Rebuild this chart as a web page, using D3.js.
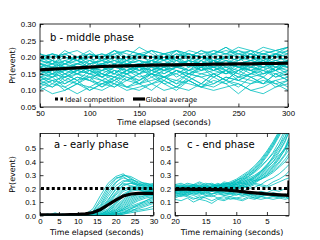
<!DOCTYPE html>
<html>
<head>
<meta charset="utf-8">
<script src="https://cdn.jsdelivr.net/npm/d3@7"></script>
<style>
  body { margin: 0; background: #fff; }
  svg { display: block; font-family: "DejaVu Sans", sans-serif; }
  .tick text { font-size: 7.8px; fill: #000; }
  .tick line { stroke: #000; stroke-width: 0.8; }
</style>
</head>
<body>
<div id="chart"></div>
<script>
// ---- data ----
const IDEAL = 0.2;

// b - middle phase (time elapsed, seconds)
const midTimes = [50, 62.5, 75, 87.5, 100, 112.5, 125, 137.5, 150, 162.5, 175, 187.5, 200, 212.5, 225, 237.5, 250, 262.5, 275, 287.5, 300];
const midAverage = [.162, .164, .166, .168, .170, .172, .173, .174, .175, .176, .177, .177, .178, .178, .179, .179, .180, .180, .181, .181, .182];
const midRuns = [
  [.20,.21,.20,.19,.21,.20,.21,.22,.21,.20,.21,.22,.21,.20,.21,.22,.21,.22,.21,.22,.23],
  [.19,.18,.20,.19,.18,.19,.20,.19,.21,.20,.19,.20,.21,.20,.19,.20,.21,.20,.21,.20,.21],
  [.18,.17,.18,.19,.17,.18,.19,.18,.17,.19,.18,.19,.18,.20,.19,.18,.19,.20,.19,.18,.19],
  [.16,.17,.16,.18,.17,.16,.17,.18,.17,.16,.18,.17,.18,.17,.19,.18,.17,.18,.17,.19,.18],
  [.15,.16,.17,.15,.16,.17,.16,.15,.17,.16,.17,.18,.16,.17,.16,.18,.17,.16,.17,.18,.17],
  [.14,.15,.14,.16,.15,.14,.16,.15,.16,.15,.17,.16,.15,.16,.17,.15,.16,.17,.16,.15,.16],
  [.12,.11,.13,.12,.10,.12,.13,.11,.12,.14,.12,.13,.12,.11,.13,.12,.14,.13,.12,.13,.14],
  [.11,.09,.10,.12,.11,.13,.12,.10,.11,.12,.13,.11,.10,.12,.11,.13,.12,.10,.09,.11,.12],
  [.21,.20,.21,.22,.20,.21,.20,.22,.21,.22,.21,.20,.22,.21,.22,.21,.22,.21,.23,.22,.21],
  [.17,.18,.17,.16,.18,.19,.17,.18,.19,.18,.17,.18,.19,.18,.17,.19,.18,.19,.20,.18,.19],
  [.13,.14,.15,.13,.14,.15,.14,.16,.14,.15,.14,.16,.15,.14,.15,.16,.14,.15,.16,.14,.15],
  [.17,.15,.16,.17,.16,.15,.17,.16,.18,.17,.16,.17,.16,.18,.17,.16,.18,.17,.16,.18,.17],
  [.20,.19,.18,.20,.19,.20,.18,.19,.20,.19,.21,.19,.20,.19,.21,.20,.19,.21,.20,.19,.20],
  [.13,.15,.12,.14,.13,.11,.14,.13,.15,.12,.14,.13,.15,.14,.12,.14,.13,.15,.14,.12,.13],
  [.18,.19,.17,.18,.19,.18,.17,.19,.18,.19,.20,.18,.19,.18,.20,.19,.18,.19,.18,.20,.19],
  [.16,.15,.17,.16,.15,.16,.18,.16,.17,.18,.16,.17,.18,.16,.17,.18,.17,.16,.18,.17,.16],
  [.10,.12,.11,.09,.11,.10,.12,.11,.10,.12,.10,.11,.13,.11,.10,.11,.12,.10,.11,.13,.11],
  [.19,.20,.21,.19,.20,.21,.19,.20,.21,.20,.19,.21,.20,.22,.20,.21,.20,.19,.21,.20,.22],
  [.15,.14,.16,.15,.17,.15,.14,.16,.15,.16,.15,.17,.16,.15,.16,.15,.17,.16,.15,.16,.17],
  [.17,.16,.18,.17,.16,.18,.17,.16,.17,.18,.19,.17,.18,.17,.18,.19,.17,.18,.19,.17,.18],
  [.12,.13,.12,.14,.13,.12,.11,.13,.12,.13,.14,.12,.13,.11,.12,.14,.13,.12,.13,.12,.10],
  [.19,.18,.19,.20,.18,.19,.18,.20,.19,.18,.20,.19,.21,.20,.19,.20,.19,.21,.20,.21,.20],
  [.16,.17,.15,.16,.17,.16,.15,.17,.16,.17,.16,.15,.17,.18,.16,.17,.16,.18,.17,.16,.18],
  [.14,.13,.14,.15,.14,.13,.15,.14,.13,.15,.14,.15,.13,.15,.14,.16,.15,.14,.15,.16,.14],
  [.18,.17,.19,.18,.17,.18,.19,.17,.18,.19,.18,.17,.19,.18,.19,.17,.18,.19,.18,.19,.18],
  [.20,.21,.20,.19,.21,.20,.22,.21,.20,.22,.21,.22,.21,.20,.22,.21,.23,.22,.21,.22,.23],
  [.17,.19,.16,.18,.20,.17,.15,.18,.19,.16,.18,.20,.17,.19,.16,.18,.20,.17,.19,.21,.18],
  [.14,.12,.15,.13,.16,.14,.12,.15,.13,.16,.14,.12,.15,.17,.14,.16,.13,.15,.17,.14,.16],
  [.19,.21,.18,.20,.22,.19,.21,.18,.20,.22,.19,.21,.20,.18,.21,.23,.20,.22,.19,.21,.22],
  [.16,.14,.17,.15,.13,.16,.18,.15,.17,.14,.16,.18,.15,.17,.19,.16,.14,.17,.19,.16,.18],
  [.11,.13,.10,.12,.14,.11,.13,.15,.12,.10,.13,.11,.14,.12,.15,.13,.11,.14,.12,.15,.13],
  [.18,.16,.19,.17,.15,.18,.20,.17,.15,.18,.16,.19,.17,.20,.18,.16,.19,.21,.18,.16,.19],
  [.15,.17,.14,.16,.18,.15,.13,.16,.18,.15,.17,.14,.16,.19,.17,.15,.18,.16,.14,.17,.19],
  [.20,.18,.21,.19,.17,.20,.22,.19,.21,.18,.20,.22,.19,.21,.18,.20,.22,.20,.18,.21,.20],
  [.13,.11,.14,.12,.15,.13,.11,.14,.12,.15,.13,.16,.14,.12,.15,.13,.16,.14,.12,.15,.13],
  [.17,.15,.18,.16,.19,.17,.15,.18,.16,.19,.17,.20,.18,.16,.19,.17,.15,.18,.20,.17,.19],
  [.12,.14,.11,.13,.10,.12,.14,.11,.13,.15,.12,.10,.13,.11,.14,.12,.09,.12,.14,.11,.13],
  [.21,.19,.22,.20,.21,.19,.22,.20,.23,.21,.19,.22,.20,.22,.21,.23,.21,.20,.22,.21,.23],
  [.16,.18,.15,.17,.16,.14,.17,.19,.16,.18,.15,.17,.19,.16,.18,.20,.17,.15,.18,.16,.19],
  [.14,.16,.13,.15,.17,.14,.16,.13,.15,.17,.14,.16,.14,.17,.15,.13,.16,.18,.15,.17,.15]
];

// a - early phase (time elapsed, seconds)
const earlyTimes = [0, 2, 4, 6, 8, 10, 12, 14, 16, 18, 20, 22, 24, 26, 28, 30];
const earlyAverage = [.005, .005, .005, .005, .006, .008, .012, .022, .045, .08, .115, .145, .16, .165, .165, .165];
const earlyRuns = [
  [0,0,.01,0,0,0,.01,.05,.15,.24,.29,.31,.27,.25,.24,.22],
  [0,.01,0,0,.01,0,0,.03,.10,.20,.27,.30,.28,.24,.22,.21],
  [0,0,0,.01,0,0,.01,.02,.06,.14,.22,.26,.25,.23,.21,.20],
  [0,0,0,0,0,.01,0,.01,.04,.10,.17,.23,.24,.22,.20,.19],
  [.01,0,0,0,0,0,0,.01,.03,.08,.15,.20,.21,.20,.19,.20],
  [0,0,.02,0,0,0,0,.01,.02,.05,.12,.18,.20,.19,.18,.19],
  [0,0,0,0,0,0,.01,0,.01,.04,.09,.15,.18,.19,.18,.17],
  [0,0,0,0,.01,0,0,0,.01,.03,.07,.12,.16,.17,.18,.17],
  [0,.01,0,0,0,0,0,0,.01,.02,.05,.10,.14,.16,.17,.16],
  [0,0,0,0,0,0,0,0,0,.02,.04,.08,.12,.15,.16,.16],
  [0,0,0,.01,0,0,0,0,0,.01,.03,.06,.10,.13,.15,.16],
  [0,0,0,0,0,0,0,0,0,.01,.02,.05,.08,.11,.13,.14],
  [0,0,0,0,0,0,0,0,0,0,.02,.04,.07,.09,.11,.13],
  [0,0,0,0,0,0,0,0,0,0,.01,.03,.05,.07,.09,.11],
  [0,0,0,0,0,0,0,0,0,0,.01,.02,.04,.05,.07,.09],
  [0,0,0,0,0,0,0,0,0,0,0,.01,.03,.04,.05,.07],
  [0,0,0,0,0,0,0,0,0,0,0,.01,.02,.03,.04,.05],
  [0,0,.01,0,0,0,0,.02,.08,.18,.25,.28,.26,.23,.21,.22],
  [0,0,0,0,0,0,0,.01,.05,.12,.19,.25,.27,.24,.23,.22],
  [0,0,0,0,0,0,0,0,.02,.07,.13,.19,.22,.21,.20,.21],
  [0,0,0,0,0,0,0,0,.01,.04,.10,.16,.19,.20,.21,.20],
  [0,0,0,0,0,0,0,0,0,.02,.06,.11,.15,.17,.18,.18],
  [0,0,0,0,0,0,0,0,0,.01,.03,.07,.11,.14,.15,.15],
  [0,0,0,0,0,0,0,0,0,0,.01,.02,.03,.06,.08,.10],
  [0,0,0,0,0,0,0,.01,.04,.11,.20,.24,.22,.21,.20,.23],
  [0,0,0,0,0,0,.01,.03,.12,.22,.28,.29,.25,.22,.24,.23],
  [0,0,0,0,0,0,0,.01,.03,.09,.16,.22,.24,.23,.22,.24],
  [0,0,0,0,0,0,0,0,.01,.03,.08,.14,.19,.21,.19,.18],
  [0,0,0,0,0,0,0,0,0,.01,.04,.09,.13,.16,.17,.19],
  [0,0,0,0,0,0,0,0,0,0,.02,.05,.09,.12,.14,.15],
  [0,0,0,0,0,0,0,0,0,.01,.02,.04,.06,.08,.10,.12],
  [0,0,0,0,0,0,0,0,0,0,0,.02,.05,.08,.11,.14],
  [0,0,0,0,0,0,0,.02,.07,.16,.24,.30,.29,.26,.23,.21]
];

// c - end phase (time remaining, seconds)
const endTimes = [20, 19, 18, 17, 16, 15, 14, 13, 12, 11, 10, 9, 8, 7, 6, 5, 4, 3, 2, 1.4];
const endAvgTimes = [20, 19, 18, 17, 16, 15, 14, 13, 12, 11, 10, 9, 8, 7, 6, 5, 4, 3, 2, 1.45, 1.4];
const endAverage = [.195, .196, .196, .195, .195, .194, .193, .192, .190, .187, .182, .177, .172, .168, .164, .160, .157, .154, .152, .15, .26];
const endRuns = [
  [.22,.23,.21,.22,.24,.22,.23,.22,.24,.23,.25,.27,.29,.32,.36,.41,.47,.55,.64,.72],
  [.20,.21,.22,.20,.21,.23,.21,.22,.23,.24,.26,.28,.31,.34,.39,.45,.52,.60,.70,.78],
  [.19,.20,.19,.21,.20,.19,.21,.20,.22,.21,.23,.24,.26,.29,.33,.38,.43,.50,.58,.66],
  [.21,.19,.20,.22,.21,.20,.22,.21,.20,.22,.24,.26,.28,.30,.33,.37,.42,.48,.56,.62],
  [.18,.19,.20,.18,.19,.21,.20,.19,.21,.22,.21,.23,.25,.27,.30,.34,.38,.44,.51,.58],
  [.17,.18,.19,.17,.18,.19,.18,.20,.19,.21,.22,.21,.23,.25,.28,.31,.35,.40,.46,.53],
  [.20,.22,.20,.21,.19,.20,.21,.22,.20,.21,.23,.22,.24,.26,.27,.30,.34,.39,.45,.49],
  [.19,.18,.20,.19,.21,.20,.19,.20,.21,.20,.22,.24,.23,.25,.27,.29,.32,.36,.40,.44],
  [.22,.21,.23,.22,.20,.22,.21,.23,.22,.24,.23,.25,.27,.26,.29,.32,.36,.42,.50,.57],
  [.18,.17,.18,.19,.17,.18,.19,.18,.19,.20,.19,.21,.22,.24,.23,.26,.28,.31,.35,.38],
  [.16,.17,.16,.18,.17,.16,.18,.17,.18,.17,.19,.18,.20,.21,.23,.22,.25,.27,.30,.33],
  [.21,.20,.22,.21,.23,.21,.22,.24,.22,.23,.25,.24,.26,.28,.31,.35,.40,.47,.55,.63],
  [.15,.14,.16,.15,.13,.15,.14,.16,.15,.14,.16,.15,.17,.16,.18,.17,.19,.18,.20,.22],
  [.17,.16,.15,.17,.16,.18,.16,.17,.15,.16,.17,.16,.15,.17,.16,.15,.17,.16,.15,.17],
  [.13,.15,.14,.12,.14,.13,.11,.13,.14,.12,.13,.14,.15,.13,.14,.15,.14,.16,.15,.14],
  [.19,.18,.17,.19,.18,.17,.19,.18,.17,.16,.18,.17,.16,.15,.17,.16,.15,.14,.15,.13],
  [.14,.16,.15,.13,.12,.14,.15,.13,.12,.14,.13,.12,.14,.13,.12,.13,.14,.13,.12,.13],
  [.20,.21,.20,.22,.21,.20,.21,.20,.22,.21,.20,.22,.21,.23,.22,.21,.23,.25,.27,.28],
  [.23,.22,.24,.23,.22,.24,.23,.22,.24,.23,.26,.28,.31,.35,.40,.46,.53,.61,.70,.80],
  [.18,.20,.19,.18,.20,.19,.18,.20,.19,.21,.20,.22,.24,.26,.29,.33,.37,.43,.49,.55],
  [.20,.19,.21,.20,.22,.21,.20,.21,.22,.20,.21,.23,.25,.28,.32,.37,.44,.52,.62,.70],
  [.16,.15,.17,.16,.17,.15,.16,.17,.16,.17,.16,.15,.16,.14,.15,.16,.14,.15,.13,.14],
  [.12,.11,.13,.10,.12,.11,.09,.12,.11,.13,.12,.11,.13,.12,.14,.13,.12,.13,.14,.12],
  [.21,.22,.21,.23,.22,.21,.22,.23,.21,.22,.24,.26,.29,.33,.38,.44,.51,.59,.68,.76],
  [.22,.20,.21,.23,.21,.22,.20,.22,.23,.25,.27,.30,.33,.37,.42,.48,.55,.63,.72,.82],
  [.19,.21,.20,.19,.21,.20,.22,.21,.23,.22,.24,.27,.30,.33,.37,.41,.46,.52,.59,.67],
  [.20,.19,.21,.20,.19,.22,.20,.21,.20,.22,.23,.25,.27,.29,.32,.36,.40,.45,.50,.55],
  [.18,.19,.17,.19,.18,.20,.19,.18,.20,.19,.21,.20,.22,.24,.27,.30,.33,.37,.42,.46],
  [.23,.24,.22,.23,.25,.23,.24,.22,.25,.24,.26,.29,.32,.36,.41,.47,.54,.62,.71,.79],
  [.17,.16,.18,.16,.15,.17,.16,.18,.17,.16,.15,.17,.16,.15,.14,.16,.15,.14,.16,.15]
];

const midYTicks = [0.05, 0.10, 0.15, 0.20, 0.25, 0.30];
const midXTicks = [50, 100, 150, 200, 250, 300];
const lowYTicks = [0.0, 0.1, 0.2, 0.3, 0.4, 0.5];
const earlyXTicks = [0, 5, 10, 15, 20, 25, 30];
const endXTicks = [20, 15, 10, 5];

// ---- drawing ----
const W = 320, H = 240;
const CYAN = "#00bfbf";

const svg = d3.select("#chart").append("svg")
  .attr("width", W)
  .attr("height", H);

const defs = svg.append("defs");

function panel(opts) {
  const x = d3.scaleLinear().domain(opts.xDomain).range([opts.left, opts.right]);
  const y = d3.scaleLinear().domain(opts.yDomain).range([opts.bottom, opts.top]);
  const g = svg.append("g");

  defs.append("clipPath").attr("id", "clip-" + opts.id)
    .append("rect")
    .attr("x", opts.left).attr("y", opts.top)
    .attr("width", opts.right - opts.left).attr("height", opts.bottom - opts.top);

  const plot = g.append("g").attr("clip-path", `url(#clip-${opts.id})`);

  const line = d3.line()
    .x((d, i) => x(opts.times[i]))
    .y(d => y(d));

  plot.selectAll("path.run")
    .data(opts.runs)
    .enter()
    .append("path")
    .attr("class", "run")
    .attr("d", line)
    .attr("fill", "none")
    .attr("stroke", CYAN)
    .attr("stroke-width", 0.8);

  // ideal competition
  plot.append("line")
    .attr("x1", x(opts.xDomain[0]) + 1)
    .attr("x2", x(opts.xDomain[1]))
    .attr("y1", y(IDEAL))
    .attr("y2", y(IDEAL))
    .attr("stroke", "#000")
    .attr("stroke-width", 3)
    .attr("stroke-dasharray", "3,2.4");

  // global average
  const avgLine = d3.line()
    .x((d, i) => x(opts.avgTimes[i]))
    .y(d => y(d));
  plot.append("path")
    .attr("d", avgLine(opts.average))
    .attr("fill", "none")
    .attr("stroke", "#000")
    .attr("stroke-width", 3.2);

  // axes, ticks pointing inward on all four sides
  const fmtY = d3.format(opts.yFormat);
  g.append("g")
    .attr("transform", `translate(${opts.left},0)`)
    .call(d3.axisLeft(y).tickValues(opts.yTicks).tickFormat(fmtY).tickSizeInner(-3.5).tickSizeOuter(0).tickPadding(4));
  g.append("g")
    .attr("transform", `translate(${opts.right},0)`)
    .call(d3.axisRight(y).tickValues(opts.yTicks).tickFormat("").tickSizeInner(-3.5).tickSizeOuter(0));
  g.append("g")
    .attr("transform", `translate(0,${opts.bottom})`)
    .call(d3.axisBottom(x).tickValues(opts.xTicks).tickFormat(d3.format("d")).tickSizeInner(-3.5).tickSizeOuter(0).tickPadding(3));
  g.append("g")
    .attr("transform", `translate(0,${opts.top})`)
    .call(d3.axisTop(x).tickValues(opts.xTicks).tickFormat("").tickSizeInner(-3.5).tickSizeOuter(0));
  g.selectAll(".domain").remove();

  g.append("rect")
    .attr("x", opts.left).attr("y", opts.top)
    .attr("width", opts.right - opts.left).attr("height", opts.bottom - opts.top)
    .attr("fill", "none")
    .attr("stroke", "#000")
    .attr("stroke-width", 0.8);

  // titles
  g.append("text")
    .attr("x", opts.titleX).attr("y", opts.titleY)
    .attr("font-size", "10px")
    .text(opts.title);

  g.append("text")
    .attr("x", (opts.left + opts.right) / 2)
    .attr("y", opts.xLabelY)
    .attr("text-anchor", "middle")
    .attr("font-size", "7.9px")
    .text(opts.xLabel);

  if (opts.yLabel) {
    g.append("text")
      .attr("transform", `translate(15,${(opts.top + opts.bottom) / 2}) rotate(-90)`)
      .attr("text-anchor", "middle")
      .attr("font-size", "7.9px")
      .text(opts.yLabel);
  }
  return { x, y, g };
}

const mid = panel({
  id: "b", left: 40, right: 288, top: 24, bottom: 107,
  xDomain: [50, 300], yDomain: [0.05, 0.30],
  times: midTimes, runs: midRuns, avgTimes: midTimes, average: midAverage,
  xTicks: midXTicks, yTicks: midYTicks, yFormat: ".2f",
  title: "b - middle phase", titleX: 50, titleY: 41,
  xLabel: "Time elapsed (seconds)", xLabelY: 125, yLabel: "Pr(event)"
});

panel({
  id: "a", left: 40, right: 153.5, top: 133.5, bottom: 215.5,
  xDomain: [0, 30], yDomain: [0, 0.61],
  times: earlyTimes, runs: earlyRuns, avgTimes: earlyTimes, average: earlyAverage,
  xTicks: earlyXTicks, yTicks: lowYTicks, yFormat: ".1f",
  title: "a - early phase", titleX: 54, titleY: 148,
  xLabel: "Time elapsed (seconds)", xLabelY: 235, yLabel: "Pr(event)"
});

panel({
  id: "c", left: 175, right: 289, top: 133.5, bottom: 215.5,
  xDomain: [20, 1.4], yDomain: [0, 0.61],
  times: endTimes, runs: endRuns, avgTimes: endAvgTimes, average: endAverage,
  xTicks: endXTicks, yTicks: lowYTicks, yFormat: ".1f",
  title: "c - end phase", titleX: 187, titleY: 148,
  xLabel: "Time remaining (seconds)", xLabelY: 235, yLabel: null
});

// legend inside the middle panel
const legend = mid.g.append("g").attr("font-size", "6.8px");
legend.append("line")
  .attr("x1", 55).attr("x2", 63).attr("y1", 99).attr("y2", 99)
  .attr("stroke", "#000").attr("stroke-width", 3).attr("stroke-dasharray", "3,2.4");
legend.append("text").attr("x", 65).attr("y", 101.5).text("Ideal competition");
legend.append("line")
  .attr("x1", 133).attr("x2", 145).attr("y1", 99).attr("y2", 99)
  .attr("stroke", "#000").attr("stroke-width", 3.2);
legend.append("text").attr("x", 145.5).attr("y", 101.5).text("Global average");
</script>
</body>
</html>
